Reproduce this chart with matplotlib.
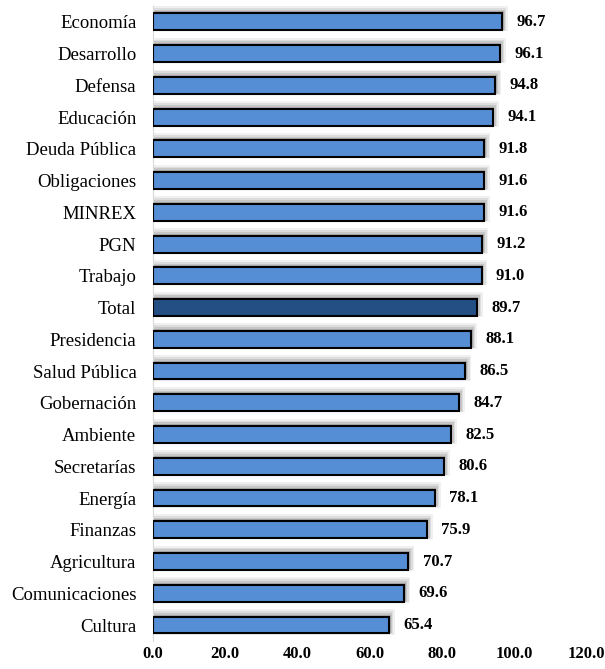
import matplotlib.pyplot as plt
import numpy as np

categorias = ['Economía', 'Desarrollo', 'Defensa', 'Educación', 'Deuda Pública',
              'Obligaciones', 'MINREX', 'PGN', 'Trabajo', 'Total', 'Presidencia',
              'Salud Pública', 'Gobernación', 'Ambiente', 'Secretarías', 'Energía',
              'Finanzas', 'Agricultura', 'Comunicaciones', 'Cultura']
valores = [96.7, 96.1, 94.8, 94.1, 91.8, 91.6, 91.6, 91.2, 91.0, 89.7, 88.1,
           86.5, 84.7, 82.5, 80.6, 78.1, 75.9, 70.7, 69.6, 65.4]
ticks_x = [0, 20, 40, 60, 80, 100, 120]

plt.rcParams['font.family'] = ['Liberation Serif', 'DejaVu Serif']

fig = plt.figure(figsize=(6.05, 6.69), dpi=100)
ax = fig.add_axes([0.253, 0.042, 0.716, 0.949])

y = np.arange(len(categorias))
colores = ['#244F85' if c == 'Total' else '#558ED5' for c in categorias]

# sombra difusa (arriba y a la derecha)
for dx, dy, h, a in [(1.6, -0.10, 0.80, 0.06), (1.2, -0.08, 0.72, 0.08),
                     (0.8, -0.06, 0.65, 0.10), (0.4, -0.04, 0.58, 0.14)]:
    ax.barh(y + dy, np.array(valores) + dx, height=h, color='black', alpha=a,
            edgecolor='none', zorder=1)

ax.barh(y, valores, height=0.53, color=colores, edgecolor='black', linewidth=1.5, zorder=3)

for yi, v in zip(y, valores):
    ax.text(v + 4, yi, f'{v:.1f}', va='center', ha='left', fontsize=12,
            fontweight='bold', zorder=4)

ax.set_yticks(y)
ax.set_yticklabels(categorias, fontsize=13.5)
ax.set_ylim(len(categorias) - 0.5, -0.5)
ax.set_xlim(0, 120)
ax.set_xticks(ticks_x)
ax.set_xticklabels([f'{t:.1f}' for t in ticks_x], fontsize=12, fontweight='bold')
ax.tick_params(axis='both', length=0)
ax.tick_params(axis='x', pad=4)
ax.tick_params(axis='y', pad=12)
for s in ['top', 'right', 'bottom']:
    ax.spines[s].set_visible(False)
ax.spines['left'].set_color('#D9D9D9')

fig.savefig('out.png', dpi=100)
